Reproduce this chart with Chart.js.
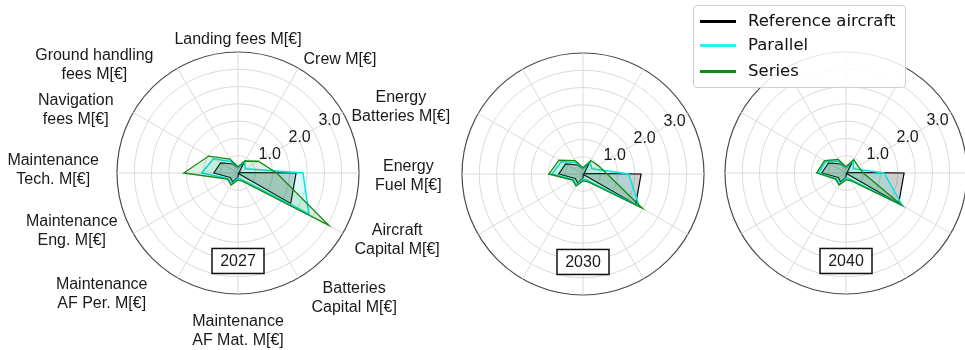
<!DOCTYPE html>
<html>
<head>
<meta charset="utf-8">
<script src="https://cdn.jsdelivr.net/npm/chart.js@4.4.0/dist/chart.umd.min.js"></script>
<style>
  html, body { margin: 0; padding: 0; background: #fff; width: 965px; height: 350px; overflow: hidden; }
  #wrap { position: relative; width: 965px; height: 350px; overflow: hidden; }
  #wrap canvas { position: absolute; left: 0; top: 0; }
  #legend {
    position: absolute; left: 693px; top: 5px; width: 211px; height: 81px;
    border: 1px solid #cfcfcf; border-radius: 4px; background: rgba(255,255,255,0.85);
    font-family: "DejaVu Sans", sans-serif; font-size: 16.5px; color: #111;
  }
  #legend .item { position: absolute; left: 0; width: 100%; height: 20px; }
  #legend .swatch { position: absolute; left: 6px; top: 9px; width: 36px; height: 2.5px; }
  #legend .txt { position: absolute; left: 54px; top: 0; line-height: 20px; white-space: nowrap; }
</style>
</head>
<body>
<div id="wrap">
  <canvas id="c2027" width="980" height="350"></canvas>
  <canvas id="c2030" width="980" height="350"></canvas>
  <canvas id="c2040" width="980" height="350"></canvas>
  <div id="legend"></div>
</div>
<script>
// Cost categories, clockwise from the top spoke (each entry = text lines of the label)
const categories = [
  ['Landing fees M[€]'],
  ['Crew M[€]'],
  ['Energy', 'Batteries M[€]'],
  ['Energy', 'Fuel M[€]'],
  ['Aircraft', 'Capital M[€]'],
  ['Batteries', 'Capital M[€]'],
  ['Maintenance', 'AF Mat. M[€]'],
  ['Maintenance', 'AF Per. M[€]'],
  ['Maintenance', 'Eng. M[€]'],
  ['Maintenance', 'Tech. M[€]'],
  ['Navigation', 'fees M[€]'],
  ['Ground handling', 'fees M[€]']
];

const years = ['2027', '2030', '2040'];
const seriesNames = ['Reference aircraft', 'Parallel', 'Series'];

// Radial ticks
const radialMax = 3.5;
const radialStep = 0.5;
const radialTickLabels = [1.0, 2.0, 3.0];

// Costs in M€ per category
const reference = [0.15, 0.36, 0.04, 1.68, 1.76, 0.02, 0.12, 0.30, 0.26, 0.70, 0.58, 0.30];

const parallel2027 = [0.15, 0.38, 0.25, 1.88, 2.37, 0.22, 0.15, 0.35, 0.33, 1.05, 0.82, 0.38];
const series2027   = [0.18, 0.40, 0.68, 1.12, 3.03, 0.28, 0.20, 0.40, 0.35, 1.57, 0.98, 0.46];

const parallel2030 = [0.15, 0.40, 0.30, 1.32, 1.88, 0.20, 0.15, 0.35, 0.33, 0.90, 0.72, 0.38];
const series2030   = [0.18, 0.45, 0.50, 0.70, 1.98, 0.25, 0.20, 0.40, 0.35, 0.99, 0.80, 0.45];

const parallel2040 = [0.15, 0.40, 0.25, 1.10, 1.88, 0.20, 0.15, 0.35, 0.33, 0.80, 0.68, 0.38];
const series2040   = [0.18, 0.45, 0.40, 0.50, 1.86, 0.25, 0.20, 0.40, 0.35, 0.85, 0.72, 0.45];

const yearData = {
  '2027': [reference, parallel2027, series2027],
  '2030': [reference, parallel2030, series2030],
  '2040': [reference, parallel2040, series2040]
};

const lineColors = ['#000000', '#00e5e5', '#138a13'];
const fillColors = ['rgba(0,0,0,0.19)', 'rgba(0,225,225,0.13)', 'rgba(0,128,0,0.12)'];
const lineWidths = [1.2, 1.5, 1.3];

const labelFont = '16px "Liberation Sans", Arial, sans-serif';
const textColor = '#1a1a1a';

// small hand adjustments of the category label blocks (px)
const labelNudge = [
  [0, 7], [0, 0], [0, 0], [6, 3], [3, 2], [8, 12],
  [0, 8], [-25, 8], [-7, -7], [-8, -3], [-11, 3], [-19, 6]
];

function drawCategoryLabels(chart) {
  const s = chart.scales.r;
  const ctx = chart.ctx;
  const lh = 19;
  ctx.save();
  ctx.font = labelFont;
  ctx.fillStyle = textColor;
  ctx.textAlign = 'center';
  ctx.textBaseline = 'middle';
  chart.data.labels.forEach((lines, i) => {
    const p = s.getPointPosition(i, s.drawingArea + 10);
    const dx = p.x - s.xCenter, dy = p.y - s.yCenter;
    const w = Math.max(...lines.map(l => ctx.measureText(l).width));
    const h = lines.length * lh;
    let cx = p.x, cy = p.y;
    if (Math.abs(dx) < 1) cy += (dy < 0 ? -h / 2 : h / 2);
    else cx += (dx > 0 ? w / 2 : -w / 2);
    cx += labelNudge[i][0];
    cy += labelNudge[i][1];
    lines.forEach((l, k) => ctx.fillText(l, cx, cy - h / 2 + lh / 2 + k * lh));
  });
  ctx.restore();
}

const radarDecor = {
  id: 'radarDecor',
  afterDatasetsDraw(chart, args, opts) {
    const s = chart.scales.r;
    const ctx = chart.ctx;
    ctx.save();
    // radial tick labels, 30 degrees above the horizontal
    ctx.font = labelFont;
    ctx.fillStyle = textColor;
    ctx.textAlign = 'center';
    ctx.textBaseline = 'middle';
    const a = Math.PI / 6;
    radialTickLabels.forEach(v => {
      const d = s.getDistanceFromCenterForValue(v) + 2;
      ctx.fillText(v.toFixed(1), s.xCenter + Math.cos(a) * d, s.yCenter - Math.sin(a) * d);
    });
    // year box
    const bx = s.xCenter, by = s.yCenter + s.drawingArea * 0.727;
    const bw = 52, bh = 25;
    ctx.fillStyle = '#fff';
    ctx.fillRect(bx - bw / 2, by - bh / 2, bw, bh);
    ctx.strokeStyle = '#111';
    ctx.lineWidth = 1.5;
    ctx.strokeRect(bx - bw / 2, by - bh / 2, bw, bh);
    ctx.fillStyle = textColor;
    ctx.fillText(opts.year, bx, by + 1);
    ctx.restore();
    if (opts.showLabels) drawCategoryLabels(chart);
  }
};

function makeRadar(canvasId, year, area, showLabels) {
  const size = 242;
  const cw = 980, chh = 350;
  const datasets = yearData[year].map((vals, k) => ({
    label: seriesNames[k],
    data: vals,
    borderColor: lineColors[k],
    backgroundColor: fillColors[k],
    borderWidth: lineWidths[k],
    fill: true,
    pointRadius: 0,
    tension: 0,
    order: 3 - k
  }));
  return new Chart(document.getElementById(canvasId), {
    type: 'radar',
    data: { labels: categories, datasets },
    options: {
      responsive: false,
      animation: false,
      devicePixelRatio: 1,
      layout: {
        padding: { left: area.left, top: area.top, right: cw - area.left - size, bottom: chh - area.top - size }
      },
      plugins: {
        legend: { display: false },
        tooltip: { enabled: false },
        radarDecor: { year, showLabels }
      },
      scales: {
        r: {
          min: 0,
          max: radialMax,
          ticks: { display: false, stepSize: radialStep },
          grid: {
            circular: true,
            color: c => (c.tick && c.tick.value === radialMax) ? '#4a4a4a' : '#dadada',
            lineWidth: c => (c.tick && c.tick.value === radialMax) ? 1.2 : 1
          },
          angleLines: { color: '#dadada', lineWidth: 1 },
          pointLabels: { display: false }
        }
      }
    },
    plugins: [radarDecor]
  });
}

makeRadar('c2027', '2027', { left: 117, top: 52 }, true);
makeRadar('c2030', '2030', { left: 462, top: 53 }, false);
makeRadar('c2040', '2040', { left: 725, top: 52 }, false);

// legend
const legend = document.getElementById('legend');
const rowTops = [5, 29, 55];
seriesNames.forEach((name, k) => {
  const item = document.createElement('div');
  item.className = 'item';
  item.style.top = rowTops[k] + 'px';
  const sw = document.createElement('div');
  sw.className = 'swatch';
  sw.style.background = lineColors[k] === '#00e5e5' ? '#2ef0f0' : lineColors[k];
  const tx = document.createElement('div');
  tx.className = 'txt';
  tx.textContent = name;
  item.appendChild(sw);
  item.appendChild(tx);
  legend.appendChild(item);
});
</script>
</body>
</html>
